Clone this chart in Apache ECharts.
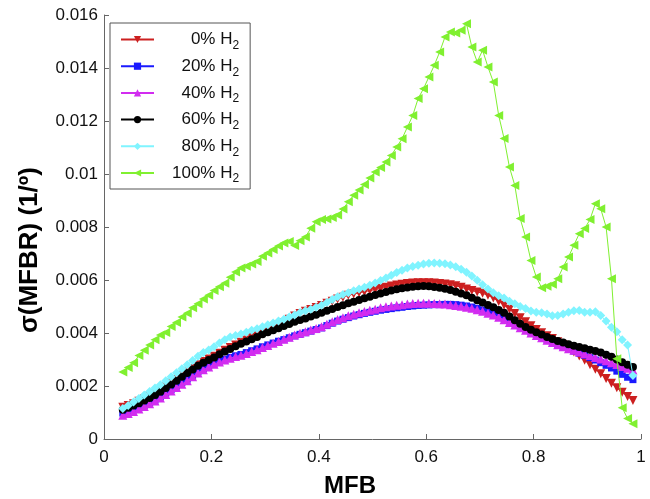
<!DOCTYPE html>
<html>
<head>
<meta charset="utf-8">
<script src="https://cdn.jsdelivr.net/npm/echarts@6/dist/echarts.min.js"></script>
<style>html,body{margin:0;padding:0;background:#fff;}#c{width:650px;height:499px;}</style>
</head>
<body>
<div id="c"></div>
<script>
// MFB grid (x values)
const mfb = [
0.035,0.045,0.055,0.065,0.075,0.085,0.095,0.105,0.115,0.125,
0.135,0.145,0.155,0.165,0.175,0.185,0.195,0.205,0.215,0.225,
0.235,0.245,0.255,0.265,0.275,0.285,0.295,0.305,0.315,0.325,
0.335,0.345,0.355,0.365,0.375,0.385,0.395,0.405,0.415,0.425,
0.435,0.445,0.455,0.465,0.475,0.485,0.495,0.505,0.515,0.525,
0.535,0.545,0.555,0.565,0.575,0.585,0.595,0.605,0.615,0.625,
0.635,0.645,0.655,0.665,0.675,0.685,0.695,0.705,0.715,0.725,
0.735,0.745,0.755,0.765,0.775,0.785,0.795,0.805,0.815,0.825,
0.835,0.845,0.855,0.865,0.875,0.885,0.895,0.905,0.915,0.925,
0.935,0.945,0.955,0.965,0.975,0.985];

// sigma(MFBR) values, in units of 1e-3 (1/deg)
const h0 = [
1.20,1.26,1.33,1.42,1.52,1.61,1.71,1.82,1.97,2.11,
2.25,2.39,2.53,2.66,2.80,2.92,3.02,3.12,3.24,3.35,
3.45,3.55,3.65,3.74,3.84,3.94,4.05,4.14,4.22,4.31,
4.40,4.52,4.64,4.74,4.82,4.89,4.96,5.04,5.12,5.20,
5.28,5.35,5.42,5.47,5.52,5.56,5.60,5.64,5.68,5.73,
5.77,5.81,5.84,5.87,5.89,5.90,5.90,5.90,5.89,5.87,
5.85,5.82,5.78,5.73,5.66,5.60,5.55,5.50,5.42,5.32,
5.19,5.05,4.90,4.74,4.58,4.42,4.27,4.13,4.01,3.90,
3.79,3.67,3.56,3.43,3.28,3.13,2.97,2.80,2.63,2.46,
2.28,2.10,1.93,1.76,1.60,1.45];
const h20 = [
0.98,1.03,1.10,1.18,1.27,1.37,1.47,1.59,1.73,1.87,
2.00,2.13,2.26,2.40,2.54,2.66,2.76,2.86,2.94,3.01,
3.08,3.14,3.19,3.26,3.33,3.40,3.48,3.55,3.62,3.69,
3.75,3.82,3.89,3.95,4.01,4.07,4.13,4.19,4.28,4.37,
4.45,4.52,4.58,4.64,4.69,4.74,4.78,4.82,4.86,4.89,
4.92,4.95,4.97,5.00,5.02,5.04,5.05,5.06,5.07,5.07,
5.08,5.08,5.07,5.05,5.02,4.98,4.93,4.87,4.81,4.74,
4.66,4.56,4.46,4.36,4.26,4.15,4.04,3.94,3.85,3.76,
3.66,3.57,3.48,3.40,3.32,3.24,3.16,3.07,2.98,2.88,
2.78,2.68,2.56,2.44,2.33,2.24];
const h40 = [
0.90,0.96,1.04,1.13,1.23,1.33,1.43,1.55,1.68,1.81,
1.94,2.07,2.20,2.35,2.49,2.61,2.72,2.82,2.91,2.98,
3.05,3.11,3.16,3.23,3.30,3.37,3.45,3.53,3.61,3.68,
3.76,3.84,3.92,3.99,4.05,4.11,4.17,4.24,4.33,4.42,
4.51,4.58,4.65,4.71,4.76,4.81,4.86,4.90,4.95,4.99,
5.02,5.05,5.07,5.09,5.11,5.12,5.12,5.12,5.11,5.10,
5.09,5.07,5.04,5.01,4.97,4.93,4.88,4.82,4.75,4.68,
4.59,4.50,4.40,4.30,4.20,4.10,4.00,3.91,3.82,3.73,
3.64,3.56,3.48,3.41,3.35,3.28,3.22,3.15,3.08,3.02,
2.95,2.88,2.81,2.74,2.67,2.60];
const h60 = [
1.10,1.18,1.26,1.35,1.45,1.55,1.66,1.78,1.92,2.06,
2.20,2.35,2.49,2.62,2.76,2.88,2.98,3.08,3.20,3.30,
3.40,3.50,3.59,3.68,3.76,3.85,3.95,4.03,4.10,4.18,
4.26,4.34,4.42,4.49,4.55,4.62,4.69,4.76,4.84,4.91,
4.98,5.05,5.12,5.18,5.25,5.31,5.37,5.43,5.49,5.55,
5.60,5.65,5.69,5.72,5.75,5.76,5.77,5.76,5.74,5.71,
5.67,5.62,5.56,5.49,5.42,5.33,5.24,5.15,5.06,4.97,
4.87,4.76,4.62,4.48,4.35,4.23,4.12,4.03,3.94,3.85,
3.77,3.70,3.64,3.58,3.52,3.47,3.42,3.37,3.32,3.26,
3.18,3.10,3.00,2.90,2.80,2.72];
const h80 = [
1.15,1.26,1.40,1.53,1.66,1.79,1.92,2.05,2.20,2.35,
2.50,2.65,2.80,2.96,3.12,3.26,3.36,3.48,3.62,3.75,
3.85,3.91,3.96,4.03,4.10,4.16,4.24,4.31,4.38,4.45,
4.52,4.60,4.68,4.77,4.84,4.90,4.97,5.05,5.15,5.26,
5.37,5.45,5.52,5.59,5.66,5.73,5.80,5.89,5.98,6.08,
6.18,6.28,6.37,6.45,6.51,6.56,6.60,6.63,6.64,6.63,
6.61,6.57,6.50,6.41,6.29,6.15,5.99,5.82,5.66,5.52,
5.41,5.32,5.20,5.10,5.00,4.92,4.83,4.78,4.76,4.72,
4.65,4.66,4.72,4.78,4.84,4.85,4.78,4.78,4.80,4.66,
4.45,4.22,4.05,3.75,3.55,2.40];
const h100 = [
2.53,2.70,2.88,3.15,3.35,3.55,3.75,3.92,4.02,4.25,
4.40,4.60,4.75,4.95,5.10,5.28,5.42,5.60,5.75,5.88,
6.10,6.30,6.45,6.52,6.60,6.70,6.90,7.02,7.15,7.28,
7.40,7.45,7.30,7.48,7.62,7.95,8.20,8.28,8.30,8.36,
8.45,8.68,8.95,9.20,9.40,9.60,9.85,10.08,10.25,10.45,
10.70,11.02,11.33,11.77,12.21,12.85,13.22,13.66,14.10,14.60,
15.17,15.36,15.32,15.42,15.67,14.79,14.23,14.67,14.04,13.47,
12.21,11.34,10.26,9.57,8.32,7.62,6.74,6.11,5.71,5.76,
5.84,6.05,6.49,6.87,7.31,7.75,7.94,8.28,8.88,8.69,
8.00,6.05,3.03,1.18,0.77,0.58];

const seriesNames = ['0', '20', '40', '60', '80', '100'];
const seriesValues = [h0, h20, h40, h60, h80, h100];
const xTicks = [0, 0.2, 0.4, 0.6, 0.8, 1];
const yTicks = [0, 0.002, 0.004, 0.006, 0.008, 0.01, 0.012, 0.014, 0.016];
const xTitle = 'MFB';
const yTitle = 'σ(MFBR) (1/º)';

const styles = [
  {color: '#cc2020', symbol: 'triangle', rotate: 180, size: 9},
  {color: '#1a1aff', symbol: 'rect', rotate: 0, size: 7},
  {color: '#d22cf0', symbol: 'triangle', rotate: 0, size: 9},
  {color: '#000000', symbol: 'circle', rotate: 0, size: 8},
  {color: '#80f4ff', symbol: 'diamond', rotate: 0, size: 9},
  {color: '#80f030', symbol: 'triangle', rotate: 90, size: 9}
];

const FONT = '"Liberation Sans", Arial, Helvetica, sans-serif';

const series = seriesNames.map((n, i) => ({
  name: n + '% H2',
  type: 'line',
  data: mfb.map((x, k) => [x, seriesValues[i][k] / 1000]),
  symbol: styles[i].symbol,
  symbolRotate: styles[i].rotate,
  symbolSize: styles[i].size,
  showAllSymbol: true,
  lineStyle: {color: styles[i].color, width: 1},
  itemStyle: {color: styles[i].color},
  emphasis: {disabled: true},
  z: 2 + i
}));

const DIGIT = 9.45;
const chart = echarts.init(document.getElementById('c'), null, {renderer: 'canvas'});
chart.setOption({
  animation: false,
  backgroundColor: '#fff',
  grid: {left: 104, right: 9, top: 15, bottom: 60, containLabel: false},
  xAxis: {
    type: 'value', min: 0, max: 1, interval: 0.2,
    axisLine: {show: true, lineStyle: {color: '#666', width: 1}},
    axisTick: {show: true, inside: true, length: 5, lineStyle: {color: '#666'}},
    splitLine: {show: false},
    axisLabel: {
      fontFamily: FONT, fontSize: 17, color: '#111', margin: 10,
      formatter: v => { const t = xTicks.find(a => Math.abs(a - v) < 1e-9); return t === undefined ? '' : String(t); }
    }
  },
  yAxis: {
    type: 'value', min: 0, max: 0.016, interval: 0.002,
    axisLine: {show: true, lineStyle: {color: '#666', width: 1}},
    axisTick: {show: true, inside: true, length: 5, lineStyle: {color: '#666'}},
    splitLine: {show: false},
    axisLabel: {
      fontFamily: FONT, fontSize: 17, color: '#111', margin: 6,
      formatter: v => { const t = yTicks.find(a => Math.abs(a - v) < 1e-9); return t === undefined ? '' : String(t); }
    }
  },
  legend: {
    orient: 'vertical',
    left: 110, top: 23,
    padding: [8, 11, 4, 10],
    itemWidth: 33, itemHeight: 9, itemGap: 6.2,
    borderColor: '#555', borderWidth: 1,
    backgroundColor: '#fff',
    data: series.map(s => s.name),
    formatter: name => {
      const pct = name.split('%')[0];
      return '{p' + pct.length + '| }{n|' + pct + '% H}{s|2}';
    },
    textStyle: {
      fontFamily: FONT, color: '#111',
      rich: {
        p1: {fontFamily: FONT, fontSize: 17, width: 13 + 2 * DIGIT},
        p2: {fontFamily: FONT, fontSize: 17, width: 13 + DIGIT},
        p3: {fontFamily: FONT, fontSize: 17, width: 13},
        n: {fontFamily: FONT, fontSize: 17, color: '#111'},
        s: {fontFamily: FONT, fontSize: 12, padding: [12, 0, 0, 0], color: '#111'}
      }
    }
  },
  graphic: [
    {type: 'text', left: 324, top: 474, style: {text: xTitle, font: 'bold 24px ' + FONT, fill: '#000'}},
    {type: 'text', x: 17, y: 333, rotation: Math.PI / 2, style: {text: yTitle, font: 'bold 26px ' + FONT, fill: '#000'}}
  ],
  series: series
});
</script>
</body>
</html>
